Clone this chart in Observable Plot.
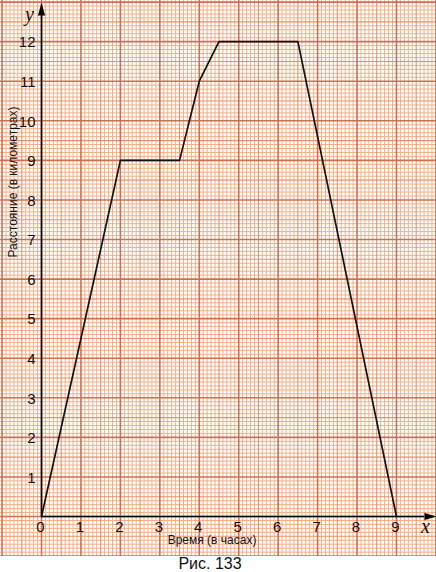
<!DOCTYPE html>
<html>
<head>
<meta charset="utf-8">
<script src="https://cdn.jsdelivr.net/npm/d3@7"></script>
<script src="https://cdn.jsdelivr.net/npm/@observablehq/plot@0.6"></script>
<style>
  html, body { margin: 0; padding: 0; background: #fff; }
  #wrap { position: relative; width: 436px; height: 572px; overflow: hidden; }
  #caption { position: absolute; left: 0; top: 556px; width: 420px; text-align: center;
    font: 16px "Liberation Sans", Arial, sans-serif; line-height: 16px; color: #111; }
</style>
</head>
<body>
<div id="wrap"><div id="chart"></div><div id="caption">Рис. 133</div></div>
<script>
// Data: time (hours) vs distance (km)
const times = [0, 2, 3.5, 4, 4.5, 6.5, 9];
const distances = [0, 9, 9, 11, 12, 12, 0];
const xTickLabels = [0, 1, 2, 3, 4, 5, 6, 7, 8, 9];
const yTickLabels = [1, 2, 3, 4, 5, 6, 7, 8, 9, 10, 11, 12];
const xTitle = "Время (в часах)";
const yTitle = "Расстояние (в километрах)";

const points = times.map((t, i) => ({t, d: distances[i]}));

// graph-paper grid (mm paper): every 0.1, 0.5 and 1 unit
const round1 = v => Math.round(v * 10) / 10;
const gx = d3.range(-10, 101).map(i => round1(i / 10));
const gy = d3.range(-10, 131).map(i => round1(i / 10));
const isInt = v => Math.abs(v - Math.round(v)) < 1e-9;
const isHalf = v => !isInt(v) && Math.abs(v * 2 - Math.round(v * 2)) < 1e-9;
const isMinor = v => !isInt(v) && !isHalf(v);

const xAxisEnd = 9.71, yAxisEnd = 12.66;
const font = "'Liberation Sans', Arial, sans-serif";
const serif = "'Liberation Serif', 'Times New Roman', serif";

const minorC = "#f2b088", halfC = "#e4926b", majorC = "#cf6f50";

const chart = Plot.plot({
  width: 436,
  height: 556,
  margin: 0,
  x: {domain: [-1.04, 10.015], axis: null},
  y: {domain: [-1.01, 13.04], axis: null},
  style: {background: "#fff", fontFamily: font, color: "#111"},
  marks: [
    Plot.ruleX(gx.filter(isMinor), {stroke: minorC, strokeWidth: 1}),
    Plot.ruleY(gy.filter(isMinor), {stroke: minorC, strokeWidth: 1}),
    Plot.ruleX(gx.filter(isHalf), {stroke: halfC, strokeWidth: 1.1}),
    Plot.ruleY(gy.filter(isHalf), {stroke: halfC, strokeWidth: 1.1}),
    Plot.ruleX(gx.filter(isInt), {stroke: majorC, strokeWidth: 1.6}),
    Plot.ruleY(gy.filter(isInt), {stroke: majorC, strokeWidth: 1.6}),
    // axes
    Plot.ruleX([0], {y1: 0, y2: yAxisEnd, stroke: "#000", strokeWidth: 1.6}),
    Plot.ruleY([0], {x1: 0, x2: xAxisEnd, stroke: "#000", strokeWidth: 1.6}),
    Plot.vector([[0, yAxisEnd]], {x: d => d[0], y: d => d[1], length: 12, rotate: 0, shape: "spike", r: 3.3,
      anchor: "start", fill: "#000", fillOpacity: 1, stroke: "#000", strokeWidth: 0.5}),
    Plot.vector([[xAxisEnd, 0]], {x: d => d[0], y: d => d[1], length: 11, rotate: 90, shape: "spike", r: 3.3,
      anchor: "start", fill: "#000", fillOpacity: 1, stroke: "#000", strokeWidth: 0.5}),
    // graph
    Plot.line(points, {x: "t", y: "d", stroke: "#111", strokeWidth: 1.7, strokeLinejoin: "miter"}),
    // tick labels
    Plot.text(xTickLabels, {x: d => d, y: 0, text: d => String(d), dy: 11, dx: -1, fontSize: 15, fill: "#111"}),
    Plot.text(yTickLabels, {x: 0, y: d => d, text: d => String(d), textAnchor: "end", dx: -6, dy: 1, fontSize: 15, fill: "#111"}),
    // axis letters
    Plot.text(["y"], {x: 0, y: yAxisEnd, text: d => d, dx: -12, dy: -1, fontSize: 20, fontStyle: "italic", fontFamily: serif, fill: "#111"}),
    Plot.text(["x"], {x: xAxisEnd, y: 0, text: d => d, dx: 1, dy: 10, fontSize: 20, fontStyle: "italic", fontFamily: serif, fill: "#111"}),
    // axis titles
    Plot.text([xTitle], {frameAnchor: "bottom", text: d => d, dx: -6.5, dy: -12.5, fontSize: 12, fill: "#111"}),
    Plot.text([yTitle], {frameAnchor: "left", text: d => d, rotate: -90, dx: 13, dy: -21, fontSize: 12, fill: "#111"})
  ]
});
document.getElementById("chart").appendChild(chart);
</script>
</body>
</html>
